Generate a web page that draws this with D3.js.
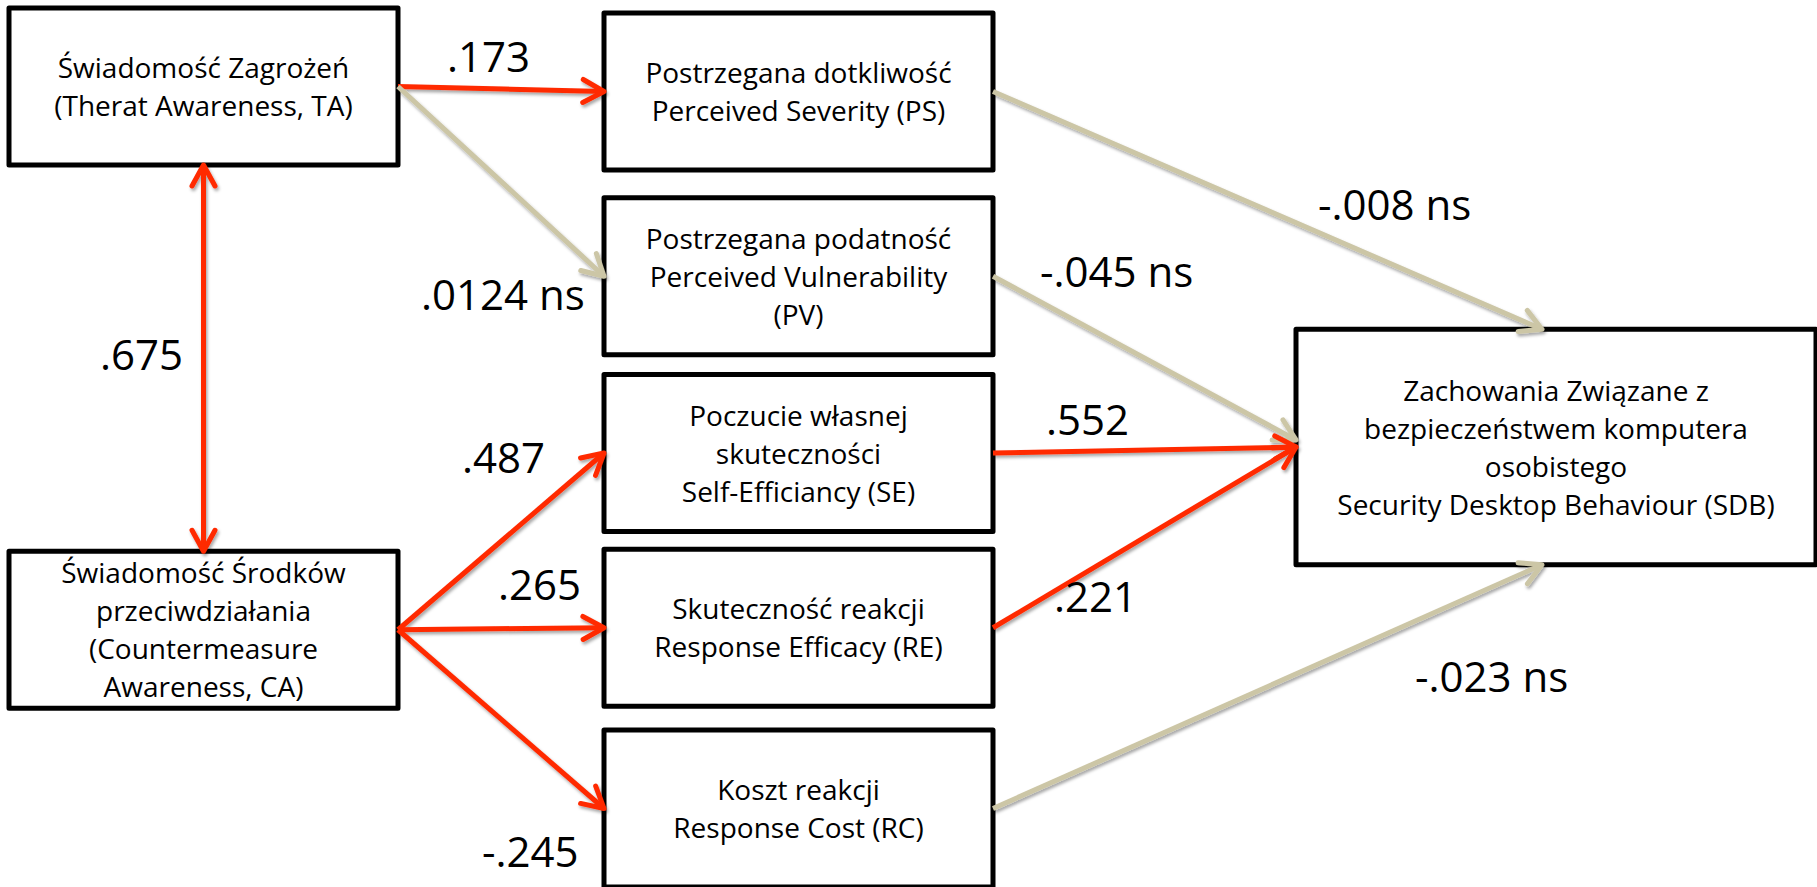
<!DOCTYPE html>
<html><head><meta charset="utf-8">
<script src="https://cdn.jsdelivr.net/npm/d3@7"></script>
<style>
html,body{margin:0;padding:0;background:#fff;}
svg{display:block;font-family:"Open Sans","Noto Sans",sans-serif;}
</style>
</head><body>
<svg id="chart" width="1817" height="887"></svg>
<script>
// ---------- DATA ----------
const nodeIds = ["TA","CA","PS","PV","SE","RE","RC","SDB"];
const nodeLabels = [
  ["Świadomość Zagrożeń","(Therat Awareness, TA)"],
  ["Świadomość Środków","przeciwdziałania","(Countermeasure","Awareness, CA)"],
  ["Postrzegana dotkliwość","Perceived Severity (PS)"],
  ["Postrzegana podatność","Perceived Vulnerability","(PV)"],
  ["Poczucie własnej","skuteczności","Self-Efficiancy (SE)"],
  ["Skuteczność reakcji","Response Efficacy (RE)"],
  ["Koszt reakcji","Response Cost (RC)"],
  ["Zachowania Związane z","bezpieczeństwem komputera","osobistego","Security Desktop Behaviour (SDB)"]
];
const pathFrom = ["TA","TA","TA","CA","CA","CA","PS","PV","SE","RE","RC"];
const pathTo   = ["PS","PV","CA","SE","RE","RC","SDB","SDB","SDB","SDB","SDB"];
const pathCoef = [".173",".0124 ns",".675",".487",".265","-.245","-.008 ns","-.045 ns",".552",".221","-.023 ns"];
const pathSignificant = [true,false,true,true,true,true,false,false,true,true,false];
const pathTwoWay = [false,false,true,false,false,false,false,false,false,false,false];

// ---------- LAYOUT ----------
const columns = ["source","construct","outcome"];
const nodeColumn = ["source","source","construct","construct","construct","construct","construct","outcome"];
const nodeRow = [0,3,0,1,2,3,4,2];
const nodeRowSpan = [1,1,1,1,1,1,1,1.5];
const nodeShift = [-7,0,-2,4,2,-2,0,-4];
const colLeft = d3.scaleOrdinal().domain(columns).range([9,604,1296]);
const colWidth = d3.scaleOrdinal().domain(columns).range([389,389,520]);
const rowY = d3.scaleBand().domain(d3.range(5)).range([15,887]).paddingInner(0.1217).paddingOuter(0);

// anchor sides: [side, fraction]
const pathFromSide = ["right","right","bottom","right","right","right","right","right","right","right","right"];
const pathToSide   = ["left","left","top","left","left","left","top","left","left","left","bottom"];
const pathToFrac   = [0.5,0.5,0.5,0.5,0.5,0.5,0.473,0.47,0.5,0.5,0.473];
const labelX = [447,421,100,462,498,482,1318,1040,1046,1054,1415];
const labelY = [72,310,370,473,600,867,220,287,435,612,692];

const RED = "#ff2a00", TAN = "#ccc6a6";
const LINE_H = 38, BOX_FONT = 28, LABEL_FONT = 42;

const svg = d3.select("#chart");
const defs = svg.append("defs");
const f = defs.append("filter").attr("id","shadow").attr("x","-20%").attr("y","-20%").attr("width","140%").attr("height","140%");
f.append("feDropShadow").attr("dx",1.5).attr("dy",2.5).attr("stdDeviation",1.6)
  .attr("flood-color","#000").attr("flood-opacity",0.35);

function marker(id,color){
  defs.append("marker").attr("id",id)
    .attr("viewBox","-26 -16 30 32").attr("refX",0).attr("refY",0)
    .attr("markerWidth",30).attr("markerHeight",32)
    .attr("markerUnits","userSpaceOnUse").attr("orient","auto-start-reverse")
    .append("path").attr("d","M-21,-11.5 L0,0 L-21,11.5")
    .attr("fill","none").attr("stroke",color).attr("stroke-width",5)
    .attr("stroke-linecap","round").attr("stroke-linejoin","round");
}
marker("arrRed",RED); marker("arrTan",TAN);

// node geometry
const nodes = nodeIds.map((id,i)=>{
  const c = nodeColumn[i];
  const bw = rowY.bandwidth();
  const h = bw*nodeRowSpan[i];
  const cy = rowY(nodeRow[i]) + bw/2 + nodeShift[i];
  return {id, lines:nodeLabels[i], x:colLeft(c), w:colWidth(c), y:cy-h/2, h, cx:colLeft(c)+colWidth(c)/2, cy};
});
const byId = new Map(nodes.map(n=>[n.id,n]));
function anchor(n,side,frac){
  if(side==="right") return [n.x+n.w, n.y+n.h*frac];
  if(side==="left") return [n.x, n.y+n.h*frac];
  if(side==="top") return [n.x+n.w*frac, n.y];
  return [n.x+n.w*frac, n.y+n.h];
}

// boxes
const g = svg.append("g");
const box = g.selectAll("g.node").data(nodes).join("g").attr("class","node");
box.append("rect")
  .attr("x",d=>d.x).attr("y",d=>d.y).attr("width",d=>d.w).attr("height",d=>d.h)
  .attr("fill","#fff").attr("stroke","#000").attr("stroke-width",5).attr("stroke-linejoin","round");
box.append("text")
  .attr("text-anchor","middle").attr("font-size",BOX_FONT).attr("fill","#000")
  .selectAll("tspan").data(d=>d.lines.map((t,i)=>({t,i,n:d.lines.length,d})))
  .join("tspan")
  .attr("x",e=>e.d.cx)
  .attr("y",e=>e.d.cy + (e.i-(e.n-1)/2)*LINE_H + 10.5)
  .text(e=>e.t);

// paths
const paths = pathFrom.map((s,i)=>{
  const a = anchor(byId.get(s), pathFromSide[i], 0.5);
  const b = anchor(byId.get(pathTo[i]), pathToSide[i], pathToFrac[i]);
  return {a,b,sig:pathSignificant[i],two:pathTwoWay[i],coef:pathCoef[i],lx:labelX[i],ly:labelY[i]};
});
const lineGen = d3.line();
const pg = svg.append("g").attr("filter","url(#shadow)");
pg.selectAll("path").data(paths).join("path")
  .attr("d",d=>lineGen([d.a,d.b]))
  .attr("fill","none")
  .attr("stroke",d=>d.sig?RED:TAN).attr("stroke-width",5)
  .attr("marker-end",d=>d.sig?"url(#arrRed)":"url(#arrTan)")
  .attr("marker-start",d=>d.two?(d.sig?"url(#arrRed)":"url(#arrTan)"):null);

// coefficient labels
svg.append("g").selectAll("text").data(paths).join("text")
  .attr("x",d=>d.lx).attr("y",d=>d.ly)
  .attr("font-size",LABEL_FONT).attr("fill","#000")
  .text(d=>d.coef);
</script>
</body></html>
